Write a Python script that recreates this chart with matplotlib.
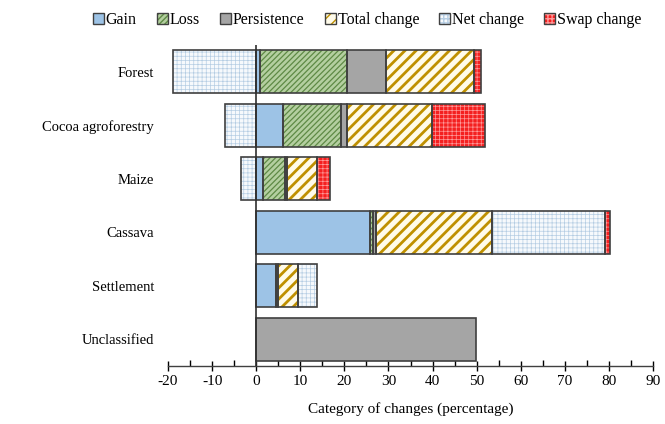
import numpy as np
import matplotlib
matplotlib.use('Agg')
import matplotlib.pyplot as plt
from matplotlib.patches import Patch
from matplotlib.legend_handler import HandlerTuple
from matplotlib.ticker import MultipleLocator

plt.rcParams['font.family'] = ['Liberation Serif', 'DejaVu Serif']
plt.rcParams['axes.unicode_minus'] = False

categories = ['Forest', 'Cocoa agroforestry', 'Maize', 'Cassava', 'Settlement', 'Unclassified']
gain = [0.8, 6.0, 1.5, 25.8, 4.45, 0.0]
loss = [19.7, 13.2, 5.1, 0.7, 0.1, 0.0]
persistence = [8.9, 1.5, 0.4, 0.6, 0.35, 49.8]
total_change = [20.0, 19.1, 6.8, 26.3, 4.5, 0.0]
net_change = [-18.8, -7.0, -3.5, 25.6, 4.4, 0.0]
swap_change = [1.6, 12.1, 3.0, 1.3, 0.0, 0.0]

EDGE = '#404040'
# name: face, hatch, hatch colour, hatch lw
STYLES = {
    'Gain': ('#9DC3E6', '', '#9DC3E6', 1.0),
    'Loss': ('#B4CFA0', '//////', '#5E8A45', 0.9),
    'Persistence': ('#A5A5A5', '', '#A5A5A5', 1.0),
    'Total change': ('#FFFBEA', '///', '#BF9000', 2.0),
    'Net change': ('#F6F9FC', '++++', '#B5CDE3', 0.5),
    'Swap change': ('#F42020', '++++', '#FF9A9A', 0.5),
}

def hbar(ax, y, left, width, name):
    face, hatch, hc, hlw = STYLES[name]
    keep = [i for i in range(len(y)) if abs(width[i]) > 0]
    yy = [y[i] for i in keep]; ll = [left[i] for i in keep]; ww = [width[i] for i in keep]
    bars = ax.barh(yy, ww, left=ll, height=0.8, color=face, hatch=hatch, edgecolor=hc, linewidth=0, zorder=2)
    for b in bars:
        try: b.set_hatch_linewidth(hlw)
        except AttributeError: pass
    ax.barh(yy, ww, left=ll, height=0.8, fill=False, edgecolor=EDGE, linewidth=1.2, zorder=3)

fig = plt.figure(figsize=(6.65, 4.24), dpi=100)
ax = fig.add_axes([0.2526, 0.1368, 0.7294, 0.7572])

n = len(categories)
y = list(range(n - 1, -1, -1))
g = np.array(gain); l = np.array(loss); p = np.array(persistence)
t = np.array(total_change); nc = np.array(net_change); s = np.array(swap_change)

start = np.zeros(n)
hbar(ax, y, start, g, 'Gain'); start = start + g
hbar(ax, y, start, l, 'Loss'); start = start + l
hbar(ax, y, start, p, 'Persistence'); start = start + p
hbar(ax, y, start, t, 'Total change'); start = start + t
net_left = np.where(nc < 0, 0.0, start)
hbar(ax, y, net_left, nc, 'Net change'); start = start + np.where(nc > 0, nc, 0.0)
hbar(ax, y, start, s, 'Swap change')

ax.set_xlim(-20, 90)
ax.set_ylim(-0.5, n - 0.5)
ax.xaxis.set_major_locator(MultipleLocator(10))
ax.xaxis.set_minor_locator(MultipleLocator(5))
ax.tick_params(axis='x', which='major', direction='inout', length=7, width=1.0, labelsize=11, colors='black', pad=3)
ax.tick_params(axis='x', which='minor', direction='in', length=4, width=1.0)
ax.set_yticks(y)
ax.set_yticklabels(categories, fontsize=10.5)
ax.tick_params(axis='y', length=0, pad=10)
for side in ['top', 'right', 'left']:
    ax.spines[side].set_visible(False)
ax.spines['bottom'].set_color(EDGE); ax.spines['bottom'].set_linewidth(1.0)
ax.axvline(0, color='#303030', linewidth=1.2, zorder=4)
ax.set_xlabel('Category of changes (percentage)', fontsize=11, labelpad=10)

handles = []
for name, (face, hatch, hc, hlw) in STYLES.items():
    a = Patch(facecolor=face, hatch=hatch, edgecolor=hc, linewidth=0)
    b = Patch(fill=False, edgecolor=EDGE, linewidth=1.0)
    handles.append((a, b))
fig.legend(handles, list(STYLES.keys()), handler_map={tuple: HandlerTuple(ndivide=1, pad=0)},
           loc='center', bbox_to_anchor=(0.552, 0.953), ncol=6, frameon=False, fontsize=11.5,
           handlelength=0.7, handleheight=0.7, handletextpad=0.12, columnspacing=1.25)

fig.savefig('out.png', dpi=100)
